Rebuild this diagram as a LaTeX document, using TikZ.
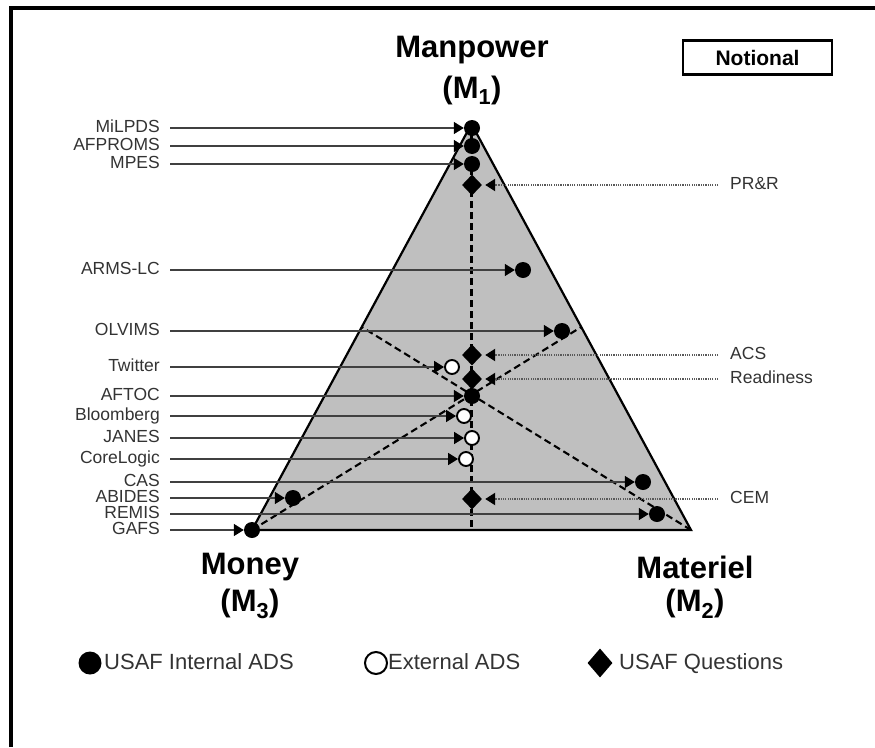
\documentclass[tikz,border=0pt]{standalone}
\usepackage{fontspec}
\setmainfont{Liberation Sans}
\usetikzlibrary{arrows.meta,shapes.geometric}

\definecolor{trifill}{gray}{0.75}
\definecolor{ink}{gray}{0.2}
\definecolor{wire}{gray}{0.25}
\definecolor{dots}{gray}{0.35}

\tikzset{
  lbl/.style={font=\fontsize{17.5}{19}\selectfont, text=ink, inner sep=0pt,
              text height=11.5pt, text depth=2pt},
  srclbl/.style={lbl, anchor=east},
  qlbl/.style={lbl, anchor=west},
  title/.style={font=\fontsize{31}{34}\selectfont\bfseries, inner sep=0pt},
  fulldot/.style={circle, fill=black, minimum size=16pt, inner sep=0pt},
  hollowdot/.style={circle, draw=black, line width=1.9pt, fill=white,
                    minimum size=14pt, inner sep=0pt},
  qmark/.style={diamond, fill=black, minimum width=20pt, minimum height=21pt,
                inner sep=0pt},
  feed/.style={draw=wire, line width=1.5pt, shorten <=10pt,
               -{Triangle[length=10pt,width=12pt,fill=black,color=black]}},
  query/.style={draw=dots, line width=2.2pt, dash pattern=on 1.2pt off 1.1pt,
                shorten <=12pt, shorten >=3pt,
                -{Triangle[length=10pt,width=12pt,fill=black,color=black]}},
  median/.style={draw=black, line width=2.1pt, dash pattern=on 7pt off 4pt},
  legtext/.style={font=\fontsize{22}{24}\selectfont, text=ink, anchor=west,
                  inner sep=0pt, text height=15pt, text depth=2pt}
}

\begin{document}
\begin{tikzpicture}[x=1pt, y=-1pt]
\useasboundingbox (0,0) rectangle (875,747);

% frame (left and top edges)
\draw[line width=3.5pt] (11,747) -- (11,8) -- (875,8);

% Notional box
\node[draw, line width=2.5pt, minimum width=149pt, minimum height=34pt,
      inner sep=0pt, font=\fontsize{21}{23}\selectfont\bfseries]
      (notional) at (757.5,57.5) {Notional};

% corners of the triangle
\coordinate (M1) at (471.5,124);
\coordinate (M3) at (252,530);
\coordinate (M2) at (691,530);
\coordinate (mid12) at (581.25,327);
\coordinate (mid13) at (361.75,327);
\coordinate (mid23) at (471.5,530);

\draw[fill=trifill, line width=2.2pt, line join=miter] (M3) -- (M1) -- (M2) -- cycle;

% medians
\draw[median] (M1) -- (mid23);
\draw[median] (M3) -- (mid12);
\draw[median] (M2) -- (mid13);

% vertex titles
\node[title] (tman) at (472,50) {Manpower};
\node[title] (tmanb) at (472,90) {(M\textsubscript{1})};
\node[title] (tmon) at (250,567) {Money};
\node[title] (tmonb) at (250,604) {(M\textsubscript{3})};
\node[title] (tmat) at (695,567) {Materiel};
\node[title] (tmatb) at (695,604) {(M\textsubscript{2})};

% data sources
\node[srclbl] (nMiLPDS)  at (160,128) {MiLPDS};
\node[srclbl] (nAFPROMS) at (160,146) {AFPROMS};
\node[srclbl] (nMPES)    at (160,164) {MPES};
\node[srclbl] (nARMS)    at (160,270) {ARMS-LC};
\node[srclbl] (nOLVIMS)  at (160,331) {OLVIMS};
\node[srclbl] (nTwitter) at (160,367) {Twitter};
\node[srclbl] (nAFTOC)   at (160,396) {AFTOC};
\node[srclbl] (nBloom)   at (160,416) {Bloomberg};
\node[srclbl] (nJANES)   at (160,438) {JANES};
\node[srclbl] (nCore)    at (160,459) {CoreLogic};
\node[srclbl] (nCAS)     at (160,482) {CAS};
\node[srclbl] (nABIDES)  at (160,498) {ABIDES};
\node[srclbl] (nREMIS)   at (160,514) {REMIS};
\node[srclbl] (nGAFS)    at (160,530) {GAFS};

\node[fulldot]   (dMiLPDS)  at (472,128) {};
\node[fulldot]   (dAFPROMS) at (472,146) {};
\node[fulldot]   (dMPES)    at (472,164) {};
\node[fulldot]   (dARMS)    at (523,270) {};
\node[fulldot]   (dOLVIMS)  at (562,331) {};
\node[hollowdot] (dTwitter) at (452,367) {};
\node[fulldot]   (dAFTOC)   at (472,396) {};
\node[hollowdot] (dBloom)   at (464,416) {};
\node[hollowdot] (dJANES)   at (472,438) {};
\node[hollowdot] (dCore)    at (466,459) {};
\node[fulldot]   (dCAS)     at (643,482) {};
\node[fulldot]   (dABIDES)  at (293,498) {};
\node[fulldot]   (dREMIS)   at (657,514) {};
\node[fulldot]   (dGAFS)    at (252,530) {};

\foreach \s in {MiLPDS,AFPROMS,MPES,ARMS,OLVIMS,Twitter,AFTOC,Bloom,JANES,Core,CAS,ABIDES,REMIS,GAFS}
  \draw[feed] (n\s) -- (d\s);

% USAF questions
\node[qlbl] (nPRR)   at (730,185) {PR\&R};
\node[qlbl] (nACS)   at (730,355) {ACS};
\node[qlbl] (nReady) at (730,379) {Readiness};
\node[qlbl] (nCEM)   at (730,499) {CEM};

\node[qmark] (qPRR)   at (472,185) {};
\node[qmark] (qACS)   at (472,355) {};
\node[qmark] (qReady) at (472,379) {};
\node[qmark] (qCEM)   at (472,499) {};

\foreach \s in {PRR,ACS,Ready,CEM}
  \draw[query] (n\s) -- (q\s);

% legend
\node[circle, fill=black, minimum size=23pt, inner sep=0pt] (lgInt) at (90,663) {};
\node[legtext] (lgIntT) at (104,663) {USAF Internal ADS};
\node[circle, draw=black, line width=2pt, fill=white, minimum size=22pt,
      inner sep=0pt] (lgExt) at (376,663) {};
\node[legtext] (lgExtT) at (388,663) {External ADS};
\node[diamond, fill=black, minimum width=25pt, minimum height=29pt,
      inner sep=0pt] (lgQ) at (600,663) {};
\node[legtext] (lgQT) at (619,663) {USAF Questions};
\end{tikzpicture}
\end{document}
